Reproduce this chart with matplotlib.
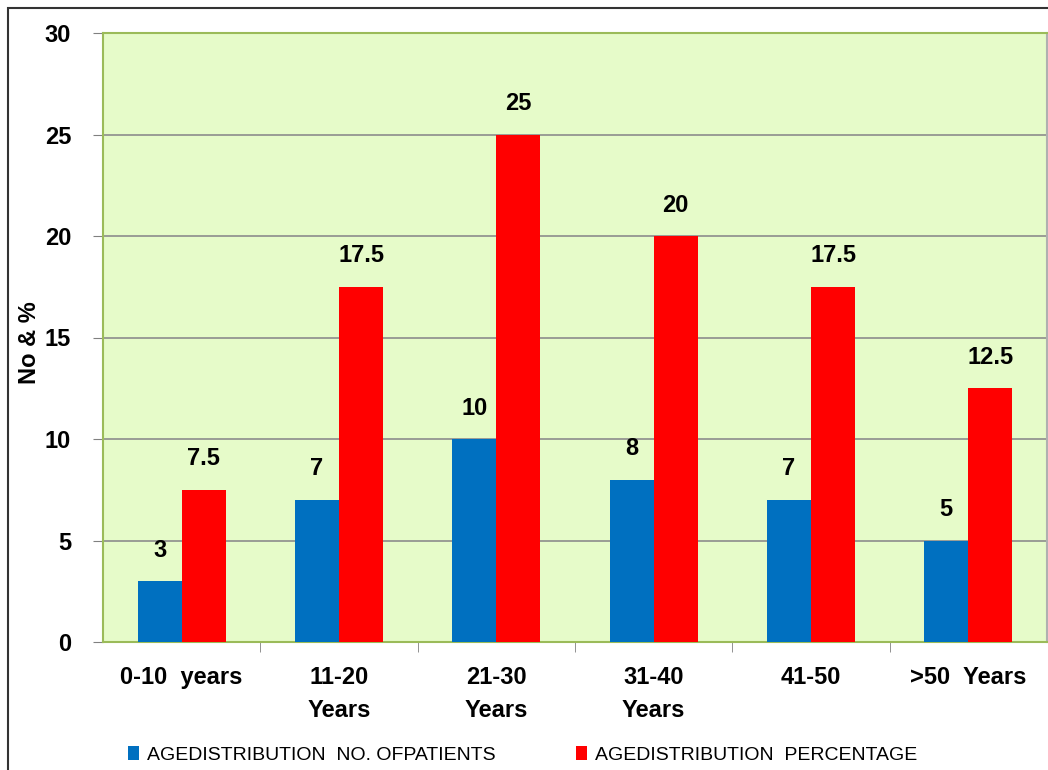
import matplotlib.pyplot as plt
from matplotlib.patches import Rectangle
import numpy as np

plt.rcParams['font.family'] = ['Liberation Sans', 'DejaVu Sans']

categories = ['0-10  years', '11-20\nYears', '21-30\nYears', '31-40\nYears', '41-50', '>50  Years']
patients = [3, 7, 10, 8, 7, 5]
percentage = [7.5, 17.5, 25, 20, 17.5, 12.5]
series_names = ['AGEDISTRIBUTION  NO. OFPATIENTS', 'AGEDISTRIBUTION  PERCENTAGE']

BLUE = '#0070c0'
RED = '#ff0000'
W, H = 1048, 770

fig = plt.figure(figsize=(W / 100, H / 100), dpi=100)
ax = fig.add_axes([103 / W, 1 - 642 / H, (1047 - 103) / W, (642 - 33) / H])
ax.set_facecolor('#e6fbc9')

# outer frame of the chart
fig.patches.append(Rectangle((8 / W, -0.1), 1.2, 1 - 8 / H + 0.1,
                             transform=fig.transFigure, fill=False,
                             edgecolor='#333333', linewidth=1.5))

x = np.arange(len(categories))
w = 0.28
b1 = ax.bar(x - w / 2, patients, w, color=BLUE, label=series_names[0], zorder=3)
b2 = ax.bar(x + w / 2, percentage, w, color=RED, label=series_names[1], zorder=3)

for bars, vals in ((b1, patients), (b2, percentage)):
    for rect, v in zip(bars, vals):
        ax.annotate(f'{v:g}', (rect.get_x() + rect.get_width() / 2, v),
                    xytext=(0, 14), textcoords='offset points',
                    ha='center', va='bottom', fontsize=17, fontweight='bold')

ax.set_xlim(-0.5, len(categories) - 0.5)
ax.set_ylim(0, 30)
ax.set_yticks(range(0, 31, 5))
ax.yaxis.grid(True, color='#8c8c8c', linewidth=1.2, zorder=0)
ax.set_axisbelow(True)

ax.set_xticks(x)
ax.set_xticklabels(categories, fontsize=17, fontweight='bold', linespacing=1.6, va='top')
ax.tick_params(axis='x', length=0, pad=17)
ax.set_xticks(np.arange(0.5, len(categories) - 0.5), minor=True)
ax.tick_params(axis='x', which='minor', length=7, color='#808080')
ax.tick_params(axis='y', length=7, color='#808080', labelsize=17, pad=16)
for lbl in ax.get_yticklabels():
    lbl.set_fontweight('bold')

ax.spines['left'].set_color('#9bbb59')
ax.spines['top'].set_color('#9bbb59')
ax.spines['bottom'].set_color('#9bbb59')
ax.spines['right'].set_color('#b0b0b0')
for s in ax.spines.values():
    s.set_linewidth(1.5)

fig.text(30 / W, 1 - 343 / H, 'No & %', rotation=90, ha='center', va='center',
         fontsize=17, fontweight='bold')

fig.legend(handles=[b1, b2], loc='center left', bbox_to_anchor=(120 / W, 1 - 755 / H),
           ncol=2, frameon=False, fontsize=14, handlelength=0.6, handleheight=0.7,
           handletextpad=0.4, columnspacing=4.1, borderaxespad=0)

fig.savefig('out.png', dpi=100)
